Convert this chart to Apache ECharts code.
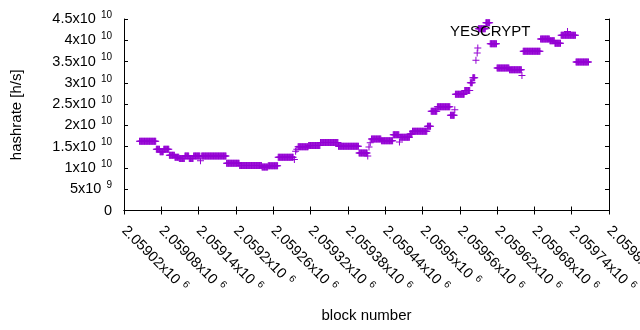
<!DOCTYPE html>
<html>
<head>
<meta charset="utf-8">
<script src="https://cdn.jsdelivr.net/npm/echarts@6/dist/echarts.min.js"></script>
<style>
  html, body { margin: 0; padding: 0; background: #fff; }
  #chart { width: 640px; height: 330px; }
</style>
</head>
<body>
<div id="chart"></div>
<script>
// hashrate stays flat over runs of blocks: first block, last block, value
const runStart = [2059045, 2059072, 2059078, 2059084, 2059093, 2059102, 2059109, 2059118, 2059125, 2059132,
  2059143, 2059145, 2059185, 2059206, 2059242, 2059252, 2059268, 2059294, 2059296, 2059298,
  2059300, 2059317, 2059336, 2059365, 2059398, 2059412, 2059414, 2059416, 2059418, 2059434,
  2059453, 2059463, 2059464, 2059480, 2059484, 2059508, 2059514, 2059524, 2059545, 2059552,
  2059553, 2059568, 2059577, 2059581, 2059586, 2059588, 2059589, 2059590, 2059602, 2059609,
  2059620, 2059640, 2059660, 2059662, 2059690, 2059705, 2059713, 2059723, 2059747];
const runEnd = [2059071, 2059077, 2059083, 2059092, 2059101, 2059108, 2059117, 2059124, 2059131, 2059142,
  2059143, 2059184, 2059205, 2059241, 2059251, 2059267, 2059292, 2059294, 2059296, 2059298,
  2059316, 2059335, 2059364, 2059397, 2059411, 2059412, 2059414, 2059416, 2059433, 2059452,
  2059462, 2059463, 2059479, 2059483, 2059507, 2059513, 2059523, 2059544, 2059551, 2059552,
  2059567, 2059576, 2059580, 2059584, 2059586, 2059588, 2059589, 2059601, 2059608, 2059619,
  2059639, 2059659, 2059660, 2059689, 2059704, 2059712, 2059722, 2059746, 2059767];
const runValue = [1.63e10, 1.44e10, 1.38e10, 1.44e10, 1.30e10, 1.25e10, 1.22e10, 1.28e10, 1.22e10, 1.28e10,
  1.17e10, 1.28e10, 1.11e10, 1.06e10, 1.02e10, 1.05e10, 1.25e10, 1.20e10, 1.39e10, 1.44e10,
  1.50e10, 1.53e10, 1.60e10, 1.51e10, 1.35e10, 1.28e10, 1.49e10, 1.59e10, 1.68e10, 1.64e10,
  1.78e10, 1.61e10, 1.72e10, 1.80e10, 1.86e10, 1.98e10, 2.33e10, 2.44e10, 2.24e10, 2.37e10,
  2.73e10, 2.82e10, 3.00e10, 3.12e10, 3.53e10, 3.70e10, 3.82e10, 4.27e10, 4.41e10, 3.92e10,
  3.35e10, 3.31e10, 3.17e10, 3.74e10, 4.03e10, 3.99e10, 3.93e10, 4.12e10, 3.49e10];

const xMin = 2059020, xMax = 2059800, xStep = 60;
const yMin = 0, yMax = 4.5e10, yStep = 5e9;

// one point per block
const points = [];
runStart.forEach((s, i) => {
  for (let b = s; b <= runEnd[i]; b++) points.push([b, runValue[i]]);
});

// gnuplot style "2.05902x10^6"
function sci(v) {
  if (v === 0) return '{b|0}';
  const e = Math.floor(Math.log10(v) + 1e-9);
  const m = parseFloat((v / Math.pow(10, e)).toFixed(6));
  return '{b|' + m + 'x10}{s|' + e + '}';
}

const font = 'Liberation Sans';
const rich = {
  b: { fontSize: 14.5, fontFamily: font, color: '#000', lineHeight: 18 },
  s: { fontSize: 10, fontFamily: font, color: '#000', verticalAlign: 'top', padding: [0, 0, 0, 5] }
};
const plus = 'path://M3,0h1v7h-1zM0,3h7v1h-7z';

const chart = echarts.init(document.getElementById('chart'));
chart.setOption({
  animation: false,
  grid: { left: 124, right: 31, top: 19, bottom: 119.5, outerBoundsMode: 'none' },
  legend: {
    data: [{ name: 'YESCRYPT', icon: plus }],
    right: 69, top: 24, align: 'right', padding: 0,
    itemWidth: 64, itemHeight: 7, symbolKeepAspect: true,
    textStyle: { fontSize: 15, fontFamily: font, color: '#000' }
  },
  xAxis: [{
    type: 'value', min: xMin, max: xMax, interval: xStep,
    name: 'block number', nameLocation: 'middle', nameGap: 98,
    nameTextStyle: { fontSize: 15, fontFamily: font, color: '#000' },
    axisLine: { show: true, lineStyle: { color: '#000' } },
    axisTick: { inside: true, length: 4, lineStyle: { color: '#000' } },
    axisLabel: { rotate: -45, margin: 18, formatter: sci, rich: rich },
    splitLine: { show: false }
  }, {
    type: 'value', position: 'top', min: xMin, max: xMax, interval: xStep,
    axisLine: { show: true, lineStyle: { color: '#000' } },
    axisTick: { inside: true, length: 4, lineStyle: { color: '#000' } },
    axisLabel: { show: false }, splitLine: { show: false }
  }],
  yAxis: [{
    type: 'value', min: yMin, max: yMax, interval: yStep,
    name: 'hashrate [h/s]', nameLocation: 'middle', nameGap: 100, nameRotate: 90,
    nameTextStyle: { fontSize: 15, fontFamily: font, color: '#000' },
    axisLine: { show: true, lineStyle: { color: '#000' } },
    axisTick: { inside: true, length: 4, lineStyle: { color: '#000' } },
    axisLabel: { margin: 12, formatter: sci, rich: rich },
    splitLine: { show: false }
  }, {
    type: 'value', position: 'right', min: yMin, max: yMax, interval: yStep,
    axisLine: { show: true, lineStyle: { color: '#000' } },
    axisTick: { inside: true, length: 4, lineStyle: { color: '#000' } },
    axisLabel: { show: false }, splitLine: { show: false }
  }],
  series: [{
    name: 'YESCRYPT',
    type: 'scatter',
    data: points,
    symbol: plus,
    symbolSize: 7,
    itemStyle: { color: '#9400d3', opacity: 1 }
  }]
});
</script>
</body>
</html>
